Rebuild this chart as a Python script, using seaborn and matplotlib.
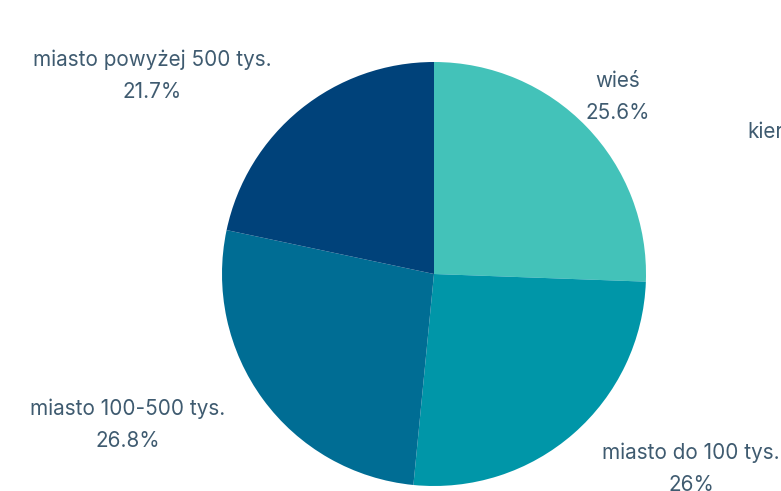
import matplotlib
matplotlib.use("Agg")
import matplotlib.pyplot as plt
import seaborn as sns

categories = ["wieś", "miasto do 100 tys.", "miasto 100-500 tys.", "miasto powyżej 500 tys."]
values = [25.6, 26.0, 26.8, 21.7]
value_labels = ["25.6%", "26%", "26.8%", "21.7%"]
colors = ["#43c2b9", "#0096a8", "#006d94", "#00427a"]

sns.set_theme(style="white")
plt.rcParams['font.family'] = ['Inter', 'DejaVu Sans']

W, H = 781, 491
fig = plt.figure(figsize=(W / 100, H / 100), dpi=100)
cx, cy, r = 434, 274, 212
ax = fig.add_axes([(cx - r) / W, (H - cy - r) / H, 2 * r / W, 2 * r / H])
ax.pie(values, colors=colors, startangle=90, counterclock=False, radius=1,
       wedgeprops=dict(linewidth=0))
ax.set_xlim(-1, 1)
ax.set_ylim(-1, 1)
ax.set_aspect("equal")
ax.axis("off")

label_pos = [(618, 97), (691, 469), (128, 425), (152, 76)]
text_color = "#3f5b70"
for (px, py), cat, lab in zip(label_pos, categories, value_labels):
    fig.text(px / W, 1 - py / H, f"{cat}\n{lab}", ha="center", va="center",
             fontsize=14.9, color=text_color, linespacing=1.78)

fig.text(747 / W, 1 - 132 / H, "kierunek", ha="left", va="center",
         fontsize=14.9, color=text_color)

fig.savefig("out.png", dpi=100)
